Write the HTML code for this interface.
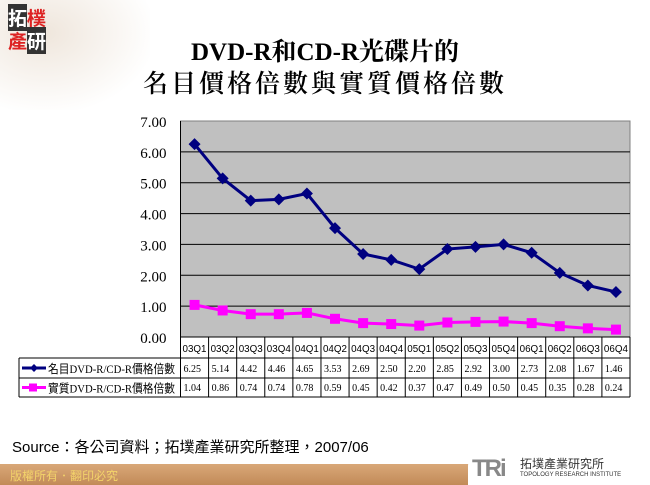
<!DOCTYPE html>
<html><head><meta charset="utf-8"><style>
body{margin:0;width:650px;height:485px;overflow:hidden;background:#fff;font-family:"Liberation Sans","Noto Sans CJK TC",sans-serif;position:relative}
.title{position:absolute;left:0;width:650px;text-align:center;font-family:"Liberation Serif","Noto Serif CJK SC",serif;font-size:25px;color:#000}
</style></head><body>
<div style="position:absolute;left:0;top:0;width:150px;height:110px;background:radial-gradient(ellipse at 30% 30%,#efe6dc,#fff 75%)"></div>
<div style="position:absolute;left:8px;top:6px;width:42px;height:48px;font-family:'Noto Sans CJK TC',sans-serif;font-weight:bold;font-size:19px;line-height:23px">
<span style="background:#333;color:#fff">拓</span><span style="color:#d22">樸</span><br><span style="color:#d22">產</span><span style="background:#333;color:#fff">研</span></div>
<div class="title" style="top:32px;font-weight:bold">DVD-R和CD-R光碟片的</div>
<div class="title" style="top:64px;letter-spacing:3px;font-weight:600">名目價格倍數與實質價格倍數</div>
<svg id="chart" width="650" height="485" style="position:absolute;left:0;top:0"></svg>
<div style="position:absolute;left:12px;top:436px;font-size:15px;color:#000">Source：各公司資料；拓墣產業研究所整理，2007/06</div>
<div style="position:absolute;left:0;top:464px;width:650px;height:21px;background:linear-gradient(#d9a878,#c28a58)"></div>
<div style="position:absolute;left:10px;top:467px;font-size:12px;color:#f3d36a">版權所有．翻印必究</div>
<div style="position:absolute;left:468px;top:452px;width:182px;height:33px;background:#fff;border-radius:14px 0 0 0"></div>
<div style="position:absolute;left:472px;top:455px;font-size:24px;font-weight:bold;color:#888;letter-spacing:-2px">TRi</div>
<div style="position:absolute;left:520px;top:455px;font-size:12px;color:#333;font-family:'Noto Sans CJK TC',sans-serif">拓墣產業研究所</div>
<div style="position:absolute;left:520px;top:472px;font-size:6px;color:#333">TOPOLOGY RESEARCH INSTITUTE</div>
<script>
const categories=["03Q1","03Q2","03Q3","03Q4","04Q1","04Q2","04Q3","04Q4","05Q1","05Q2","05Q3","05Q4","06Q1","06Q2","06Q3","06Q4"];
const nominal=[6.25,5.14,4.42,4.46,4.65,3.53,2.69,2.50,2.20,2.85,2.92,3.00,2.73,2.08,1.67,1.46];
const real=[1.04,0.86,0.74,0.74,0.78,0.59,0.45,0.42,0.37,0.47,0.49,0.50,0.45,0.35,0.28,0.24];
const yTicks=[0,1,2,3,4,5,6,7];
const seriesNames=["名目DVD-R/CD-R價格倍數","實質DVD-R/CD-R價格倍數"];
const L=180.5,R=630,T=121,B=337,NS="http://www.w3.org/2000/svg",svg=document.getElementById('chart');
const cw=(R-L)/categories.length;
const x=i=>L+cw*(i+0.5), y=v=>B-(v/7)*(B-T);
function mk(t,a,txt){const e=document.createElementNS(NS,t);for(const k in a)e.setAttribute(k,a[k]);if(txt!=null)e.textContent=txt;svg.appendChild(e);return e;}
let e=mk('rect',{x:L,y:T,width:R-L,height:B-T,fill:'#c0c0c0',stroke:'#808080'});


yTicks.forEach(v=>{
 if(v>0&&v<7){const g=mk('line',{x1:L,x2:R,y1:y(v),y2:y(v),stroke:'#000','stroke-width':1});
 
 }
 const t=mk('text',{x:L-14,y:y(v)+6,'text-anchor':'end','font-family':'Liberation Serif,serif','font-size':15},v.toFixed(2));
 
 
});
mk('line',{x1:L,x2:L,y1:T,y2:B,stroke:'#000'});
const tl=19,hb=358,r1=378,r2=397;
const grid=[[L,B,R,B],[tl,hb,R,hb],[tl,r1,R,r1],[tl,r2,R,r2],[tl,hb,tl,r2],[R,B,R,r2]];
grid.forEach(a=>mk('line',{x1:a[0],y1:a[1],x2:a[2],y2:a[3],stroke:'#000'}));
categories.forEach((c,i)=>{
 mk('line',{x1:L+cw*i,x2:L+cw*i,y1:B,y2:r2,stroke:'#000'});
 const t=mk('text',{x:L+cw*i+2,y:352,'font-size':10,textLength:24,lengthAdjust:'spacingAndGlyphs'},c);
 
 
 const a=mk('text',{x:L+cw*i+3,y:372,'font-size':10,'font-family':'Liberation Serif,serif'},nominal[i].toFixed(2));
 
 
 const b=mk('text',{x:L+cw*i+3,y:391,'font-size':10,'font-family':'Liberation Serif,serif'},real[i].toFixed(2));
 
 
});
[[nominal,'#000080','diamond'],[real,'#ff00ff','square']].forEach((s,si)=>{
 const p=mk('polyline',{points:s[0].map((v,i)=>x(i)+','+y(v)).join(' '),fill:'none',stroke:s[1],'stroke-width':3});
 
 
 s[0].forEach((v,i)=>{
  let m;
  if(s[2]=='diamond')m=mk('polygon',{points:`${x(i)},${y(v)-6} ${x(i)+6},${y(v)} ${x(i)},${y(v)+6} ${x(i)-6},${y(v)}`,fill:s[1]});
  else m=mk('rect',{x:x(i)-5,y:y(v)-5,width:10,height:10,fill:s[1]});
  
  
 });
 const ly=si?387.5:368;
 const ll=mk('line',{x1:22,x2:46,y1:ly,y2:ly,stroke:s[1],'stroke-width':3});
 
 
 if(si)mk('rect',{x:29,y:ly-4,width:8,height:8,fill:s[1]});else mk('polygon',{points:`34,${ly-4} 38,${ly} 34,${ly+4} 30,${ly}`,fill:s[1]});
 const lt=mk('text',{x:48,y:ly+5,'font-size':12,textLength:127,lengthAdjust:'spacingAndGlyphs','font-family':'Liberation Serif,Noto Sans CJK TC,sans-serif'},seriesNames[si]);
 
 
});
</script>
</body></html>
